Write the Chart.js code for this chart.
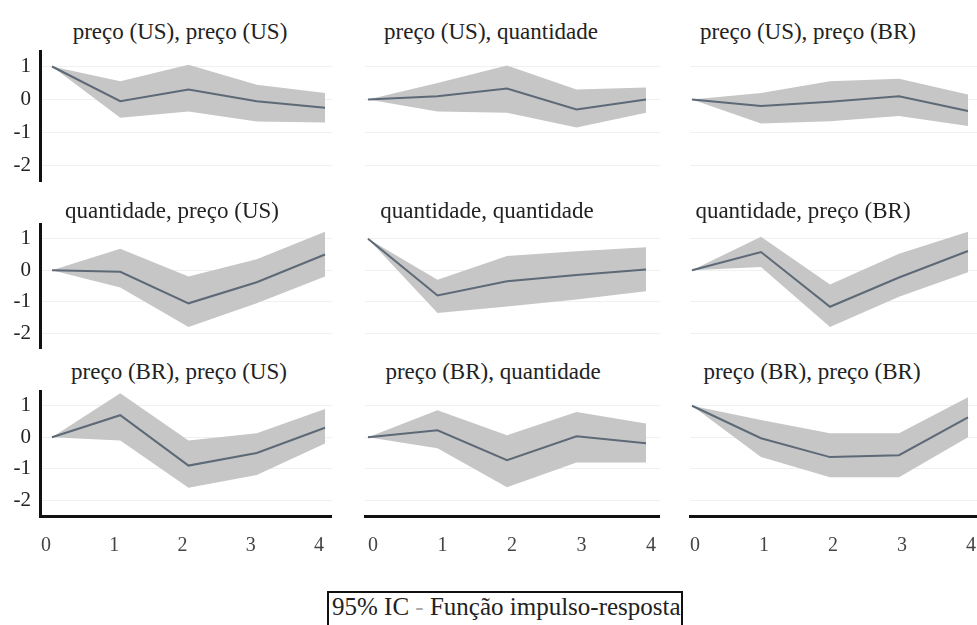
<!DOCTYPE html>
<html>
<head>
<meta charset="utf-8">
<script src="https://cdn.jsdelivr.net/npm/chart.js@4.4.1/dist/chart.umd.min.js"></script>
<style>
  html, body { margin: 0; padding: 0; background: #fff; }
  #page { position: relative; width: 977px; height: 625px; overflow: hidden; }
  .panel { position: absolute; }
  .title {
    position: absolute;
    transform: translate(-50%, -50%);
    font-family: "Liberation Serif", "Times New Roman", Times, serif;
    font-size: 23px;
    color: #222;
    white-space: nowrap;
  }
  #legendBox {
    position: absolute;
    left: 327px; top: 591px;
    width: 356px; height: 50px;
    border: 2px solid #111;
    font-family: "Liberation Serif", "Times New Roman", Times, serif;
    font-size: 25px;
    color: #222;
    padding: 0 0 0 3px;
    box-sizing: border-box;
    white-space: nowrap;
  }
  #legendBox .dash { color: #aaa; }
</style>
</head>
<body>
<div id="page">
  <div id="legendBox">95% IC <span class="dash">-</span> Função impulso-resposta</div>
</div>
<script>
// horizons and axis ticks
const horizons = [0, 1, 2, 3, 4];
const yTicks = [1, 0, -1, -2];

// panel titles, row by row (impulse, response)
const panelTitles = [
  'preço (US), preço (US)', 'preço (US), quantidade', 'preço (US), preço (BR)',
  'quantidade, preço (US)', 'quantidade, quantidade', 'quantidade, preço (BR)',
  'preço (BR), preço (US)', 'preço (BR), quantidade', 'preço (BR), preço (BR)'
];

// impulse response, one row per panel
const irfValues = [
  [1.0, -0.05, 0.3, -0.05, -0.25],
  [0, 0.1, 0.33, -0.3, 0.0],
  [0, -0.2, -0.07, 0.1, -0.35],
  [0, -0.05, -1.05, -0.38, 0.5],
  [1.0, -0.8, -0.35, -0.15, 0.02],
  [0, 0.58, -1.16, -0.23, 0.61],
  [0, 0.7, -0.9, -0.5, 0.3],
  [0, 0.22, -0.73, 0.03, -0.19],
  [1.0, -0.03, -0.63, -0.57, 0.63]
];

// 95% confidence band
const upperValues = [
  [1.0, 0.55, 1.05, 0.45, 0.2],
  [0, 0.5, 1.03, 0.3, 0.36],
  [0, 0.2, 0.55, 0.63, 0.15],
  [0, 0.68, -0.2, 0.35, 1.22],
  [1.0, -0.3, 0.45, 0.6, 0.73],
  [0, 1.06, -0.45, 0.52, 1.22],
  [0, 1.4, -0.1, 0.13, 0.9],
  [0, 0.86, 0.06, 0.8, 0.44],
  [1.0, 0.55, 0.13, 0.13, 1.27]
];
const lowerValues = [
  [1.0, -0.55, -0.36, -0.67, -0.7],
  [0, -0.36, -0.4, -0.85, -0.4],
  [0, -0.73, -0.66, -0.5, -0.8],
  [0, -0.55, -1.8, -1.05, -0.2],
  [1.0, -1.36, -1.15, -0.93, -0.67],
  [0, 0.1, -1.8, -0.84, -0.06],
  [0, -0.1, -1.6, -1.2, -0.2],
  [0, -0.35, -1.59, -0.8, -0.8],
  [1.0, -0.63, -1.27, -1.27, 0.0]
];

// panel geometry (plot areas, px)
const colAreas = [
  { left: 40, right: 332, x0: 52, unit: 68.25, labelShift: -6 },
  { left: 365, right: 660, x0: 368, unit: 69.5, labelShift: 5 },
  { left: 690, right: 977, x0: 692, unit: 69, labelShift: 3 }
];
const rowAreas = [
  { top: 50, bottom: 182, titleY: 32 },
  { top: 223, bottom: 349, titleY: 211 },
  { top: 390, bottom: 516, titleY: 372 }
];
const titleX = [[180, 491, 808], [172, 487, 803], [179, 493, 812]];

const Y_AXIS_W = 40;
const X_AXIS_H = 45;
const PAD_LEFT = 15;
const BAND = '#c6c6c6';
const LINE = '#5d6976';
const SERIF = '"Liberation Serif", "Times New Roman", Times, serif';

function toPoints(values) {
  return horizons.map((h, i) => ({ x: h, y: values[i] }));
}

function buildPanel(idx) {
  const row = Math.floor(idx / 3);
  const col = idx % 3;
  const ca = colAreas[col];
  const ra = rowAreas[row];
  const leftAxis = col === 0;
  const bottomAxis = row === 2;
  const padLeft = leftAxis ? 0 : PAD_LEFT;

  const left = ca.left - (leftAxis ? Y_AXIS_W : 0) - padLeft;
  const width = ca.right - left;
  const height = ra.bottom - ra.top + (bottomAxis ? X_AXIS_H : 0);

  const page = document.getElementById('page');
  const box = document.createElement('div');
  box.className = 'panel';
  box.style.left = left + 'px';
  box.style.top = ra.top + 'px';
  box.style.width = width + 'px';
  box.style.height = height + 'px';
  const canvas = document.createElement('canvas');
  box.appendChild(canvas);
  page.appendChild(box);

  const title = document.createElement('div');
  title.className = 'title';
  title.textContent = panelTitles[idx];
  title.style.left = titleX[row][col] + 'px';
  title.style.top = ra.titleY + 'px';
  page.appendChild(title);

  const xMin = (ca.left - ca.x0) / ca.unit;
  const xMax = (ca.right - ca.x0) / ca.unit;

  new Chart(canvas.getContext('2d'), {
    type: 'line',
    data: {
      datasets: [
        {
          label: 'irf',
          data: toPoints(irfValues[idx]),
          borderColor: LINE,
          borderWidth: 2,
          pointRadius: 0,
          fill: false,
          order: 0
        },
        {
          label: 'upper',
          data: toPoints(upperValues[idx]),
          borderWidth: 0,
          borderColor: BAND,
          backgroundColor: BAND,
          pointRadius: 0,
          fill: '+1',
          order: 1
        },
        {
          label: 'lower',
          data: toPoints(lowerValues[idx]),
          borderWidth: 0,
          borderColor: BAND,
          pointRadius: 0,
          fill: false,
          order: 2
        }
      ]
    },
    options: {
      responsive: true,
      maintainAspectRatio: false,
      animation: false,
      layout: { padding: { left: padLeft, right: 0, top: 0, bottom: 0 }, autoPadding: false },
      plugins: {
        legend: { display: false },
        tooltip: { enabled: false }
      },
      scales: {
        x: {
          type: 'linear',
          min: xMin,
          max: xMax,
          afterBuildTicks: (s) => { s.ticks = horizons.map(v => ({ value: v })); },
          afterFit: (s) => {
            s.height = bottomAxis ? X_AXIS_H : 0;
            s.paddingLeft = 0;
            s.paddingRight = 0;
          },
          grid: { display: false, drawTicks: false },
          border: { display: bottomAxis, color: '#111', width: 3 },
          ticks: {
            display: bottomAxis,
            padding: 18,
            labelOffset: ca.labelShift,
            color: '#444',
            font: { family: SERIF, size: 20 },
            callback: (v) => String(v)
          }
        },
        y: {
          min: -2.5,
          max: 1.5,
          afterBuildTicks: (s) => { s.ticks = yTicks.map(v => ({ value: v })); },
          afterFit: (s) => {
            s.width = leftAxis ? Y_AXIS_W : 0;
            s.paddingTop = 0;
            s.paddingBottom = 0;
          },
          grid: { color: '#f0f0f0', lineWidth: 1, drawTicks: false },
          border: { display: leftAxis, color: '#111', width: 3 },
          ticks: {
            display: leftAxis,
            padding: 9,
            color: '#222',
            font: { family: SERIF, size: 21 },
            callback: (v) => String(v)
          }
        }
      }
    }
  });
}

panelTitles.forEach((t, i) => buildPanel(i));
</script>
</body>
</html>
